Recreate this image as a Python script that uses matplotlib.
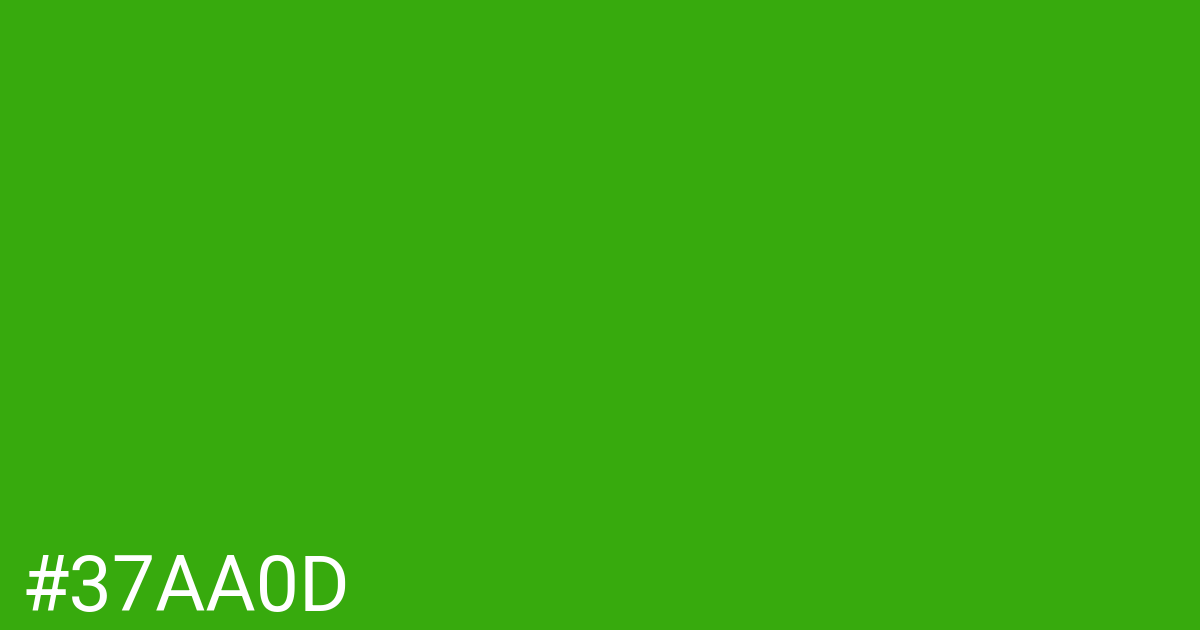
import matplotlib
matplotlib.use("Agg")
import matplotlib.pyplot as plt

# swatch colour and its label
swatch_color = "#37AA0D"
label_text = "#37AA0D"

fig = plt.figure(figsize=(12, 6.3), dpi=100)
fig.patch.set_facecolor(swatch_color)

# baseline of the label sits about 19px above the bottom edge
fig.text(21 / 1200, 19 / 630, label_text, color="white", fontsize=55.5,
         family="Roboto", ha="left", va="baseline")

fig.savefig("out.png", dpi=100, facecolor=swatch_color)
